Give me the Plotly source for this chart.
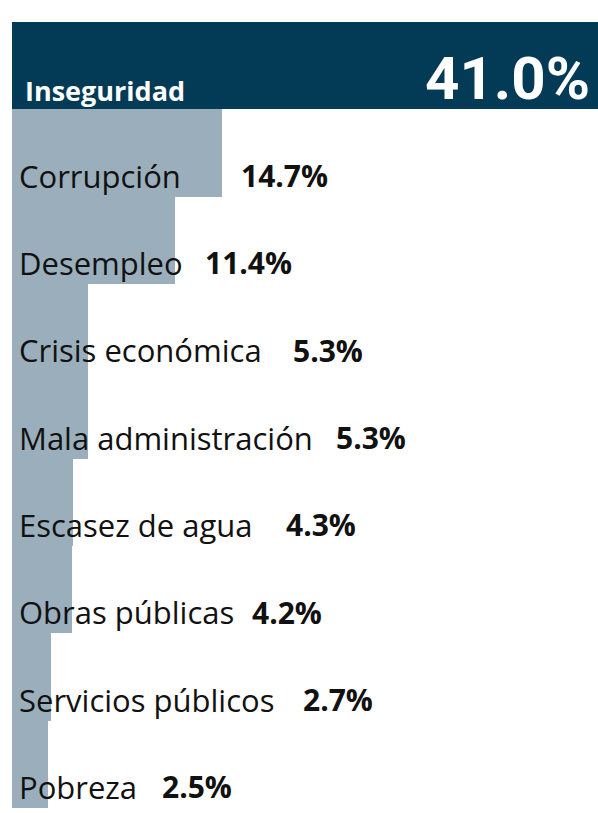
import plotly.graph_objects as go

categories = ["Inseguridad", "Corrupción", "Desempleo", "Crisis económica",
              "Mala administración", "Escasez de agua", "Obras públicas",
              "Servicios públicos", "Pobreza"]
values = [41.0, 14.7, 11.4, 5.3, 5.3, 4.3, 4.2, 2.7, 2.5]
value_labels = ["41.0%", "14.7%", "11.4%", "5.3%", "5.3%", "4.3%", "4.2%", "2.7%", "2.5%"]

# layout (pixel offsets of the value labels from the plot's left edge)
value_label_px = [None, 227, 191, 279, 322, 272, 238, 289, 148]

NAVY = "#033a56"
GREY = "#9aafbb"
colors = [NAVY] + [GREY] * (len(categories) - 1)

fig = go.Figure(go.Bar(
    x=values, y=categories, orientation="h",
    marker=dict(color=colors, line=dict(width=0)),
    hoverinfo="skip",
))

W, H = 598, 813
mt, mb, ml, mr = 22, 5, 12, 0
band = (H - mt - mb) / len(categories)

annotations = []
# top row
annotations.append(dict(
    x=0, y=categories[0], xref="x", yref="y", xanchor="left", yanchor="middle",
    xshift=11, yshift=-(band / 2 - 19),
    text="<b>" + categories[0] + "</b>", showarrow=False,
    font=dict(family="Open Sans", size=27, color="white"),
))
annotations.append(dict(
    x=1, y=categories[0], xref="paper", yref="y", xanchor="right", yanchor="middle",
    xshift=-6, yshift=-(band / 2 - 31),
    text="<b>" + value_labels[0] + "</b>", showarrow=False,
    font=dict(family="Roboto", size=60, color="white"),
))
for i in range(1, len(categories)):
    annotations.append(dict(
        x=0, y=categories[i], xref="x", yref="y", xanchor="left", yanchor="middle",
        xshift=5, yshift=-(band / 2 - 21),
        text=categories[i], showarrow=False,
        font=dict(family="Open Sans", size=31, color="#111111"),
    ))
    annotations.append(dict(
        x=0, y=categories[i], xref="x", yref="y", xanchor="left", yanchor="middle",
        xshift=value_label_px[i], yshift=-(band / 2 - 21),
        text="<b>" + value_labels[i] + "</b>", showarrow=False,
        font=dict(family="Open Sans", size=30, color="#111111"),
    ))

fig.update_layout(
    width=W, height=H,
    margin=dict(l=ml, r=mr, t=mt, b=mb, pad=0, autoexpand=False),
    paper_bgcolor="white", plot_bgcolor="white",
    bargap=0,
    showlegend=False,
    xaxis=dict(range=[0, 41], visible=False, fixedrange=True),
    yaxis=dict(range=[len(categories) - 0.5, -0.5], visible=False, fixedrange=True),
    annotations=annotations,
)

fig.write_html(
    "out.html",
    config={"displayModeBar": False},
    post_script="document.body.style.margin='0';document.body.style.overflow='hidden';",
)
